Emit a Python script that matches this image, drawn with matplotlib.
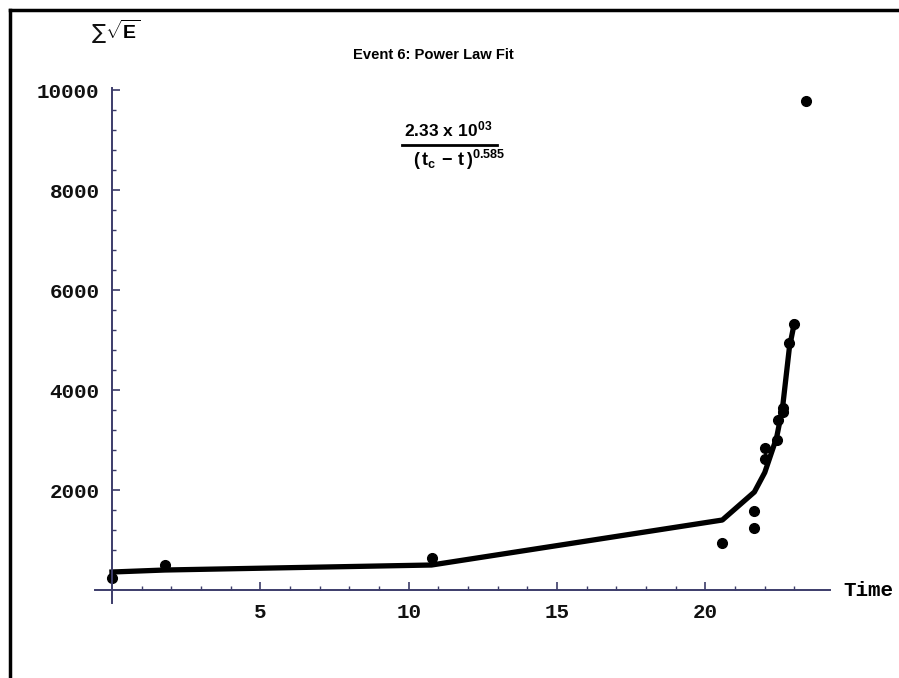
import numpy as np
import matplotlib
matplotlib.use('Agg')
import matplotlib.pyplot as plt
from matplotlib.lines import Line2D
from matplotlib import font_manager

# data
time_obs = [0.0, 1.78, 10.77, 20.57, 21.65, 21.65, 22.0, 22.02, 22.4, 22.45, 22.6, 22.62, 22.83, 23.0, 23.4]
energy_obs = [240, 500, 640, 940, 1240, 1580, 2620, 2840, 3000, 3400, 3560, 3650, 4940, 5320, 9780]

# fitted curve, evaluated at the observation times
time_fit = [0.0, 1.78, 10.77, 20.57, 21.65, 22.0, 22.4, 22.6, 22.83, 23.0]
energy_fit = [360, 400, 500, 1400, 1960, 2350, 3050, 3650, 4850, 5350]

x_major = [5, 10, 15, 20]
y_major = [2000, 4000, 6000, 8000, 10000]

plt.rcParams['mathtext.fontset'] = 'custom'
plt.rcParams['mathtext.rm'] = 'Liberation Sans:bold'
plt.rcParams['mathtext.it'] = 'Liberation Sans:bold'
plt.rcParams['mathtext.bf'] = 'Liberation Sans:bold'

# narrow sans for the title if there is one
names = set(f.name for f in font_manager.fontManager.ttflist)
title_family = 'Liberation Sans Narrow' if 'Liberation Sans Narrow' in names else 'Liberation Sans'
title_size = 11.5 if title_family == 'Liberation Sans Narrow' else 10.6

axis_col = '#3c3c6a'
tick_font = dict(family='Liberation Mono', weight='bold', size=15)

fig = plt.figure(figsize=(8.99, 6.78), dpi=100)
ax = fig.add_axes([0.1057, 0.1106, 0.8176, 0.7603])

ax.plot(time_fit, energy_fit, color='black', lw=3.8, solid_joinstyle='round')
ax.plot(time_obs, energy_obs, 'o', color='black', ms=7)

ax.set_xlim(-0.57, 24.2)
ax.set_ylim(-260, 10050)

# Mathematica-style axes crossing at the origin
for s in ['top', 'right']:
    ax.spines[s].set_visible(False)
ax.spines['left'].set_position(('data', 0))
ax.spines['bottom'].set_position(('data', 0))
ax.spines['left'].set_color(axis_col)
ax.spines['bottom'].set_color(axis_col)
ax.spines['left'].set_linewidth(1.4)
ax.spines['bottom'].set_linewidth(1.4)

ax.set_xticks(x_major)
ax.set_yticks(y_major)
ax.set_xticks(np.arange(1, 24), minor=True)
ax.set_yticks(np.arange(400, 10000, 400), minor=True)
ax.tick_params(which='major', direction='in', length=5.5, width=1.2, color=axis_col, pad=9)
ax.tick_params(which='minor', direction='in', length=3, width=1.0, color=axis_col)
for lab in ax.get_xticklabels() + ax.get_yticklabels():
    lab.set_fontproperties(tick_font)
    lab.set_color('#111111')

fig.text(843 / 899, 1 - 590 / 678, 'Time', ha='left', va='center', **tick_font)

# y label: sum of sqrt(E)
fig.text(99 / 899, 1 - 33 / 678, '\u2211', ha='center', va='center',
         family='DejaVu Sans', size=15, color='#111111')
fig.text(123 / 899, 1 - 31 / 678, r'$\sqrt{E}$', ha='center', va='center', fontsize=14)

fig.text(433 / 899, 1 - 55 / 678, 'Event 6: Power Law Fit', ha='center', va='center',
         family=title_family, weight='bold', size=title_size)

# fit formula as a fraction
fig.text(448 / 899, 1 - 130 / 678, r'$2.33\ \mathrm{x}\ 10^{03}$', ha='center', va='center', fontsize=12.5)
fig.add_artist(Line2D([402 / 899, 497 / 899], [1 - 145 / 678, 1 - 145 / 678], color='black', lw=2))
fig.text(459 / 899, 1 - 160 / 678, r'$(\,t_c\,-\,t\,)^{0.585}$', ha='center', va='center', fontsize=13)

# frame on the left and top edges
fig.add_artist(Line2D([9.5 / 899, 9.5 / 899], [0, 1 - 9.5 / 678], color='black', lw=2.5))
fig.add_artist(Line2D([9.5 / 899, 1], [1 - 9.5 / 678, 1 - 9.5 / 678], color='black', lw=2.5))

fig.savefig('out.png', dpi=100)
